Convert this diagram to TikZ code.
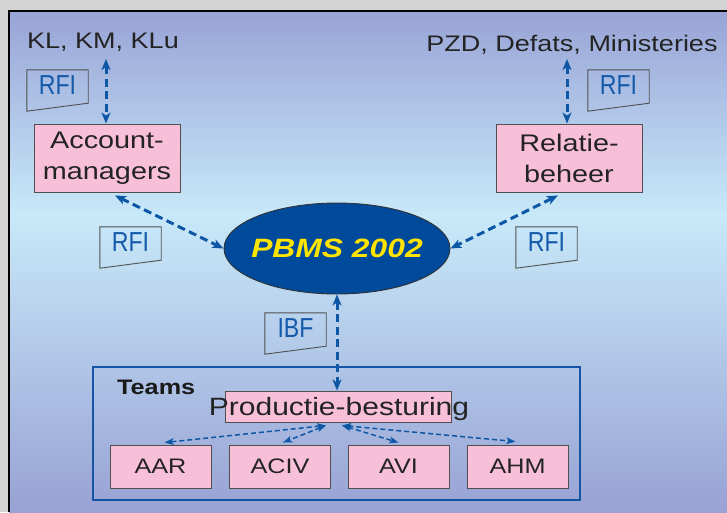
\documentclass[tikz,border=0pt]{standalone}
\usepackage{fontspec}
\setmainfont[FakeStretch=1.2]{Liberation Sans}
\newfontfamily\rfifont[FakeStretch=0.84]{Liberation Sans}
\usetikzlibrary{arrows.meta,shapes.geometric,calc}
\definecolor{outergray}{RGB}{212,212,212}
\definecolor{bgtop}{RGB}{152,163,214}
\definecolor{bgmid}{RGB}{200,233,249}
\definecolor{bgbot}{RGB}{152,162,212}
\definecolor{boxpink}{RGB}{248,192,216}
\definecolor{arrowblue}{RGB}{13,87,165}
\definecolor{ellblue}{RGB}{0,74,156}
\definecolor{pbmsyellow}{RGB}{255,228,0}
\definecolor{rfiblue}{RGB}{20,90,170}
\definecolor{textdark}{RGB}{35,35,35}
\definecolor{frameblue}{RGB}{20,85,165}
\definecolor{edgegray}{RGB}{80,80,80}
\tikzset{
  txt/.style={inner sep=0pt, text=textdark},
  pinkbox/.style={draw=edgegray, line width=0.9pt, fill=boxpink, inner sep=0pt, text=textdark},
  rfilabel/.style={inner sep=0pt, minimum width=61pt, minimum height=41pt, text height=20pt, text depth=12pt,
    text=rfiblue, font=\rfifont\fontsize{27.5}{30}\selectfont},
  rfiedge/.style={draw=edgegray, line width=0.9pt},
  bigarrow/.style={draw=arrowblue, line width=3pt, dash pattern=on 8pt off 4.5pt,
    {Stealth[length=11pt,width=9pt,inset=3pt]}-{Stealth[length=11pt,width=9pt,inset=3pt]}},
  smallarrow/.style={draw=arrowblue, line width=1.5pt, dash pattern=on 5pt off 3pt,
    {Stealth[length=9pt,width=6.5pt,inset=2pt]}-{Stealth[length=9pt,width=6.5pt,inset=2pt]}}
}
\newcommand{\rfishape}[1]{\draw[rfiedge] (#1.north west) -- (#1.north east) -- ($(#1.south east)+(0,-8)$) -- (#1.south west) -- cycle;}
\begin{document}
\begin{tikzpicture}[x=1pt,y=-1pt]
\useasboundingbox (0,0) rectangle (727,512);
\fill[outergray] (0,0) rectangle (727,512);
\shade[top color=bgtop,bottom color=bgmid] (9,10) rectangle (727,215.5);
\shade[top color=bgmid,bottom color=bgbot] (9,215) rectangle (727,512);
\draw[black, line width=2pt] (9,512) -- (9,10.5) -- (727,10.5);

% top texts
\node[txt, anchor=base, font=\fontsize{22.5}{27}\selectfont] (kl) at (103,48) {KL, KM, KLu};
\node[txt, anchor=base, font=\fontsize{22.5}{27}\selectfont] (pzd) at (572,51) {PZD, Defats, Ministeries};

% boxes
\node[pinkbox, minimum width=146pt, minimum height=68pt, align=center, font=\fontsize{24}{31}\selectfont] (acc) at (107,158) {Account-\\managers};
\node[pinkbox, minimum width=146pt, minimum height=68pt, align=center, font=\fontsize{24}{31}\selectfont] (rel) at (569,158) {Relatie-\\beheer};

% RFI / IBF labels
\node[rfilabel] (rfa) at (57.5,90.5) {RFI};
\rfishape{rfa}
\node[rfilabel] (rfb) at (618.5,90.5) {RFI};
\rfishape{rfb}
\node[rfilabel] (rfc) at (130.5,247.5) {RFI};
\rfishape{rfc}
\node[rfilabel] (rfd) at (546.5,247.5) {RFI};
\rfishape{rfd}
\node[rfilabel] (ibf) at (295.5,333.5) {IBF};
\rfishape{ibf}

% ellipse
\node[ellipse, fill=ellblue, draw=black!80, line width=0.9pt, minimum width=226pt, minimum height=91pt, inner sep=0pt] (pbms) at (337,248.5) {};
\node[inner sep=0pt, text=pbmsyellow, font=\bfseries\itshape\fontsize{26.5}{30}\selectfont] (pbmstxt) at (pbms.center) {PBMS 2002};

% teams frame
\node[draw=frameblue, line width=2pt, minimum width=487pt, minimum height=133pt, inner sep=0pt] (teams) at (336.5,433.5) {};
\node[txt, anchor=base west, font=\bfseries\fontsize{21}{25}\selectfont, text=black!90] (teamslbl) at (117,394) {Teams};

\node[pinkbox, minimum width=226pt, minimum height=31pt] (prod) at (338,406.5) {};
\node[txt, anchor=base, font=\fontsize{25}{30}\selectfont] (prodtxt) at (339,415) {Productie-besturing};

\node[pinkbox, minimum width=101pt, minimum height=43pt, font=\fontsize{21}{25}\selectfont] (aar) at (160.5,466.5) {AAR};
\node[pinkbox, minimum width=101pt, minimum height=43pt, font=\fontsize{21}{25}\selectfont] (aciv) at (280,466.5) {ACIV};
\node[pinkbox, minimum width=101pt, minimum height=43pt, font=\fontsize{21}{25}\selectfont] (avi) at (398.5,466.5) {AVI};
\node[pinkbox, minimum width=101pt, minimum height=43pt, font=\fontsize{21}{25}\selectfont] (ahm) at (517.5,466.5) {AHM};

% connectors
\coordinate (klend) at (106,59);
\coordinate (pzdend) at (567,59);
\draw[bigarrow] (klend) -- (klend |- acc.north);
\draw[bigarrow] (pzdend) -- (pzdend |- rel.north);
\draw[bigarrow] ($(acc.south)+(8,3)$) -- (pbms.west);
\draw[bigarrow] ($(rel.south)+(-11,3)$) -- (pbms.east);
\draw[bigarrow] (pbms.south) -- (pbms.south |- prod.north);

\coordinate (pl) at ($(prod.south)+(-12,3)$);
\coordinate (pr) at ($(prod.south)+(4,3)$);
\draw[smallarrow] (pl) -- ($(aar.north)+(4,-2)$);
\draw[smallarrow] (pl) -- ($(aciv.north)+(3,-2)$);
\draw[smallarrow] (pr) -- ($(avi.north)+(0,-2)$);
\draw[smallarrow] (pr) -- ($(ahm.north)+(-2,-3)$);
\end{tikzpicture}
\end{document}
